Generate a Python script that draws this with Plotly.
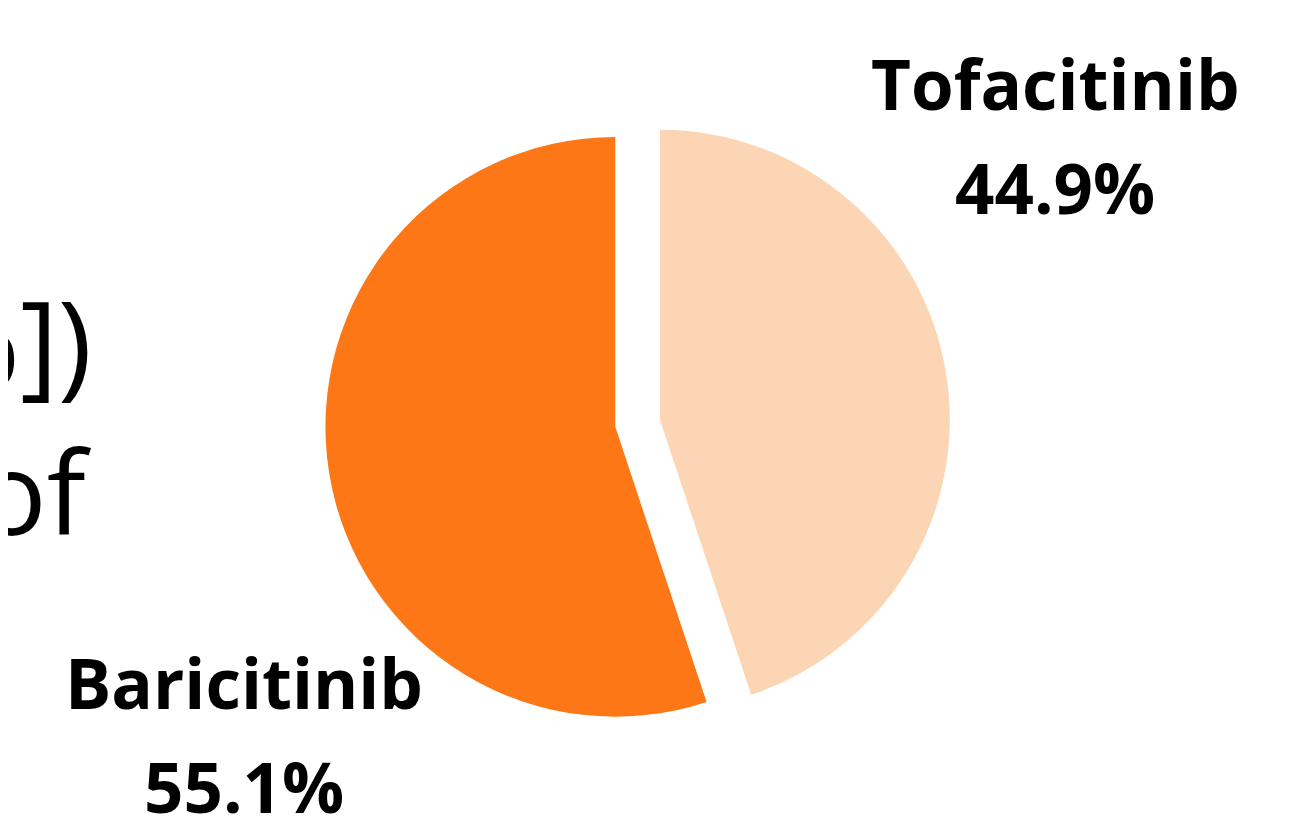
import plotly.graph_objects as go

drugs = ["Tofacitinib", "Baricitinib"]
shares = [44.9, 55.1]
colors = ["#FCD5B5", "#FE7717"]
pulls = [0.078, 0.078]

# cropped fragments of slide text at the left edge
fragments = ["%])", "of"]

W, H = 1303, 819

fig = go.Figure(go.Pie(
    labels=drugs,
    values=shares,
    sort=False,
    direction="clockwise",
    rotation=0,
    pull=pulls,
    marker=dict(colors=colors, line=dict(width=0)),
    textinfo="none",
    hoverinfo="skip",
    showlegend=False,
    domain=dict(x=[0.2433, 0.7231], y=[0.1115, 0.8745]),
))

label_font = dict(family="Open Sans", size=69, color="#000000")
label_pos = {"Tofacitinib": (1047, 75, 179), "Baricitinib": (236, 674, 778)}
for name, val in zip(drugs, shares):
    cx, y1, y2 = label_pos[name]
    fig.add_annotation(x=cx / W, y=1 - y1 / H, xref="paper", yref="paper",
                       text=f"<b>{name}</b>", showarrow=False,
                       xanchor="center", yanchor="middle", font=label_font)
    fig.add_annotation(x=cx / W, y=1 - y2 / H, xref="paper", yref="paper",
                       text=f"<b>{val:.1f}%</b>", showarrow=False,
                       xanchor="center", yanchor="middle", font=label_font)

frag_font = dict(family="Open Sans", size=116, color="#000000")
for txt, ymid in zip(fragments, [332, 482]):
    fig.add_annotation(x=86 / W, y=1 - ymid / H, xref="paper", yref="paper",
                       text=txt, showarrow=False, xanchor="right",
                       yanchor="middle", height=140, valign="middle",
                       font=frag_font)

fig.update_layout(
    width=W, height=H,
    margin=dict(l=0, r=0, t=0, b=0),
    paper_bgcolor="#FFFFFF",
    plot_bgcolor="#FFFFFF",
)

fig.write_html("out.html")
